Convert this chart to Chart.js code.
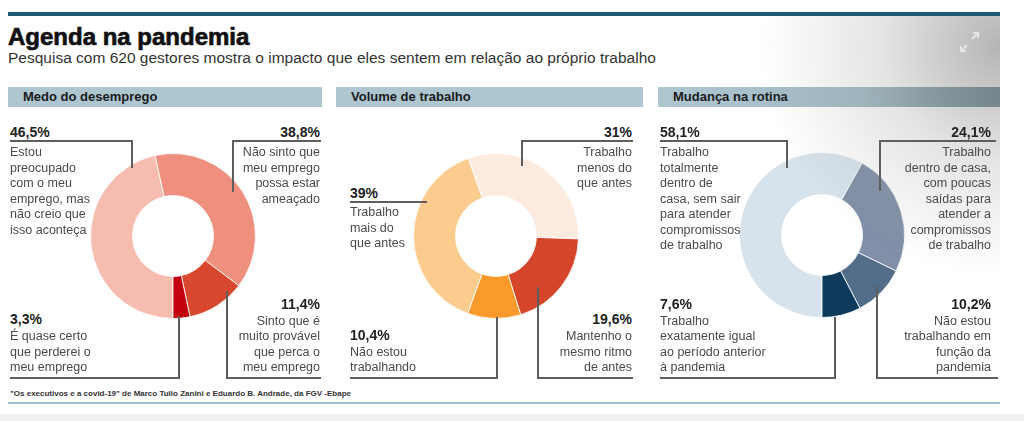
<!DOCTYPE html>
<html lang="pt-BR">
<head>
<meta charset="utf-8">
<title>Agenda na pandemia</title>
<script src="https://cdn.jsdelivr.net/npm/chart.js@4/dist/chart.umd.min.js"></script>
<style>
  body { margin: 0; background: #fff; font-family: "Liberation Sans", Arial, sans-serif; }
  #page { position: relative; width: 1024px; height: 421px; overflow: hidden; background: #fff; }
  .abs { position: absolute; }
  #topbar { left: 8px; top: 12px; width: 992px; height: 4px; background: #1d5b71; }
  #title { left: 8px; top: 22px; font-size: 24px; font-weight: bold; color: #111; -webkit-text-stroke: 0.7px #111; white-space: nowrap; line-height: 30px; }
  #subtitle { left: 8px; top: 49px; font-size: 15.5px; color: #333; white-space: nowrap; line-height: 18px; }
  .bar { top: 87px; height: 20px; background: #aec6d0; }
  .bar span { position: absolute; left: 15px; top: 0; line-height: 20px; font-size: 13px; font-weight: bold; color: #1a1a1a; white-space: nowrap; }
  #shade { left: 760px; top: 16px; width: 240px; height: 260px; pointer-events: none;
    background: radial-gradient(ellipse 240px 230px at 240px 30px, rgba(120,120,120,0.55), rgba(150,150,150,0.25) 50%, rgba(255,255,255,0) 100%); }
  canvas { position: absolute; }
  .pct { font-size: 14px; font-weight: bold; color: #222; line-height: 16px; white-space: nowrap; }
  .txt { font-size: 12.5px; color: #4a4a4a; line-height: 15.5px; white-space: nowrap; }
  .ln { background: #5e5e5e; }
  #foot { left: 10px; top: 389px; font-family: "Liberation Sans Narrow", "Liberation Sans", sans-serif; font-size: 8px; font-weight: bold; color: #333; white-space: nowrap; line-height: 10px; }
  #footline { left: 8px; top: 402px; width: 992px; height: 2px; background: #9cc1cd; }
  #bottomband { left: 0; top: 414px; width: 1024px; height: 7px; background: #f1f1f1; }
</style>
</head>
<body>
<div id="page">
  <div id="topbar" class="abs"></div>
  <div id="title" class="abs">Agenda na pandemia</div>
  <div id="subtitle" class="abs">Pesquisa com 620 gestores mostra o impacto que eles sentem em relação ao próprio trabalho</div>
  <div class="abs bar" style="left:8px;width:314px"><span>Medo do desemprego</span></div>
  <div class="abs bar" style="left:336px;width:307px"><span>Volume de trabalho</span></div>
  <div class="abs bar" style="left:658px;width:342px;background:linear-gradient(90deg,#aec6d0 0%,#a2bac5 60%,#6f8a98 100%)"><span>Mudança na rotina</span></div>
  <canvas id="medo" width="166" height="166" style="left:90px;top:153px"></canvas>
  <canvas id="volume" width="166" height="166" style="left:413px;top:153px"></canvas>
  <canvas id="rotina" width="166" height="166" style="left:739px;top:152px"></canvas>
  <div id="shade" class="abs"></div>
  <svg class="abs" style="left:958px;top:31px" width="24" height="22">
    <g stroke="#e6e6e6" stroke-width="2" fill="none">
      <line x1="14" y1="8" x2="20" y2="2"/><polyline points="15,2 20,2 20,7"/>
      <line x1="9" y1="14" x2="3" y2="20"/><polyline points="3,15 3,20 8,20"/>
    </g>
  </svg>
  <div id="foot" class="abs">"Os executivos e a covid-19" de Marco Tulio Zanini e Eduardo B. Andrade, da FGV -Ebape</div>
  <div id="footline" class="abs"></div>
  <div id="bottomband" class="abs"></div>
</div>
<script>
// dados
var medoValues = [46.5, 38.8, 11.4, 3.3];
var medoLabels = [
  ["Estou", "preocupado", "com o meu", "emprego, mas", "não creio que", "isso aconteça"],
  ["Não sinto que", "meu emprego", "possa estar", "ameaçado"],
  ["Sinto que é", "muito provável", "que perca o", "meu emprego"],
  ["É quase certo", "que perderei o", "meu emprego"]
];
var medoColors = ["#f6bcb0", "#ef907e", "#d8472e", "#c2000e"];

var volumeValues = [39, 31, 19.6, 10.4];
var volumeLabels = [
  ["Trabalho", "mais do", "que antes"],
  ["Trabalho", "menos do", "que antes"],
  ["Mantenho o", "mesmo ritmo", "de antes"],
  ["Não estou", "trabalhando"]
];
var volumeColors = ["#fccb8e", "#fdebdf", "#d4452a", "#fa9a2b"];

var rotinaValues = [58.1, 24.1, 10.2, 7.6];
var rotinaLabels = [
  ["Trabalho", "totalmente", "dentro de", "casa, sem sair", "para atender", "compromissos", "de trabalho"],
  ["Trabalho", "dentro de casa,", "com poucas", "saídas para", "atender a", "compromissos", "de trabalho"],
  ["Não estou", "trabalhando em", "função da", "pandemia"],
  ["Trabalho", "exatamente igual", "ao período anterior", "à pandemia"]
];
var rotinaColors = ["#d7e3ec", "#8190a8", "#526d88", "#0e3b5c"];

var page = document.getElementById("page");

function pctText(v) {
  return String(v).replace(".", ",") + "%";
}

function box(cls, left, top, w, h) {
  var d = document.createElement("div");
  d.className = "abs " + cls;
  d.style.left = left + "px";
  d.style.top = top + "px";
  if (w != null) d.style.width = w + "px";
  if (h != null) d.style.height = h + "px";
  page.appendChild(d);
  return d;
}

function place(el, x, align) {
  if (align == "right") {
    el.style.left = "auto";
    el.style.right = (1024 - x) + "px";
    el.style.textAlign = "right";
  } else {
    el.style.left = x + "px";
  }
}

// nota: percentual + texto + linha de chamada
function addNote(value, lines, n) {
  var pctY, firstY, lineY;
  if (n.pos == "top") { pctY = 132; firstY = 153; lineY = 141; }
  else if (n.pos == "mid") { pctY = 193; firstY = 213; lineY = 202; }
  else {
    firstY = 368 - (lines.length - 1) * 15.5;
    pctY = firstY - 18;
    lineY = 378;
  }
  var p = box("pct", 0, pctY - 8);
  p.textContent = pctText(value);
  place(p, n.x, n.align);
  var t = box("txt", 0, firstY - 7.75);
  t.innerHTML = lines.join("<br>");
  place(t, n.x, n.align);
  box("ln", n.h[0], lineY - 1, n.h[1] - n.h[0], 2);
  if (n.vx != null) {
    var y0 = Math.min(lineY, n.vy), y1 = Math.max(lineY, n.vy);
    box("ln", n.vx - 1, y0 - 1, 2, y1 - y0 + 2);
  }
}

var medoNotes = [
  { x: 10, align: "left", pos: "top", h: [10, 133], vx: 132, vy: 167 },
  { x: 320, align: "right", pos: "top", h: [232, 321], vx: 233, vy: 191 },
  { x: 320, align: "right", pos: "bottom", h: [226, 321], vx: 227, vy: 292 },
  { x: 10, align: "left", pos: "bottom", h: [10, 180], vx: 179, vy: 317 }
];
var volumeNotes = [
  { x: 350, align: "left", pos: "mid", h: [350, 427] },
  { x: 632, align: "right", pos: "top", h: [521, 633], vx: 522, vy: 165 },
  { x: 632, align: "right", pos: "bottom", h: [537, 633], vx: 538, vy: 288 },
  { x: 350, align: "left", pos: "bottom", h: [350, 498], vx: 497, vy: 318 }
];
var rotinaNotes = [
  { x: 660, align: "left", pos: "top", h: [660, 788], vx: 787, vy: 167 },
  { x: 991, align: "right", pos: "top", h: [879, 996], vx: 880, vy: 190 },
  { x: 991, align: "right", pos: "bottom", h: [876, 998], vx: 877, vy: 287 },
  { x: 660, align: "left", pos: "bottom", h: [660, 836], vx: 835, vy: 318 }
];

function donut(id, values, labels, colors, rotation, notes) {
  new Chart(id, {
    type: "doughnut",
    data: {
      labels: labels.map(function (l) { return l.join(" "); }),
      datasets: [{
        data: values,
        backgroundColor: colors,
        borderColor: "rgba(255,255,255,0.85)",
        borderWidth: 1
      }]
    },
    options: {
      responsive: false,
      animation: false,
      cutout: "49%",
      rotation: rotation,
      layout: { padding: 0 },
      plugins: { legend: { display: false }, tooltip: { enabled: false } }
    }
  });
  for (var i = 0; i < values.length; i++) {
    addNote(values[i], labels[i], notes[i]);
  }
}

donut("medo", medoValues, medoLabels, medoColors, 180, medoNotes);
donut("volume", volumeValues, volumeLabels, volumeColors, 200, volumeNotes);
donut("rotina", rotinaValues, rotinaLabels, rotinaColors, 180, rotinaNotes);
</script>
</body>
</html>
